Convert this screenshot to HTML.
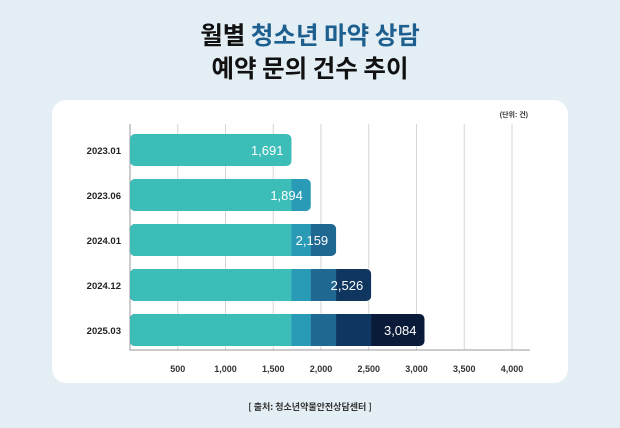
<!DOCTYPE html>
<html><head><meta charset="utf-8"><style>
body{margin:0;width:620px;height:428px;background:#e4eff5;font-family:"Liberation Sans","Noto Sans CJK KR",sans-serif;overflow:hidden;position:relative}
.t{position:absolute;left:0;width:620px;text-align:center;font-weight:bold;font-size:24.5px;color:#111;font-family:"Noto Sans CJK KR",sans-serif}
.card{position:absolute;left:52px;top:100px;width:516px;height:283px;background:#fff;border-radius:14px}
svg{position:absolute;left:0;top:0}
.src{position:absolute;top:400px;left:0;width:620px;text-align:center;font-size:9px;font-weight:bold;color:#333;font-family:"Noto Sans CJK KR",sans-serif}
</style></head><body>
<div class="t" style="top:17px">월별 <span style="color:#1d5f8f">청소년 마약 상담</span></div>
<div class="t" style="top:50px">예약 문의 건수 추이</div>
<div class="card"></div>
<svg id="c" width="620" height="428"></svg>
<div class="src">[ 출처: 청소년약물안전상담센터 ]</div>
<script>
const categories=["2023.01","2023.06","2024.01","2024.12","2025.03"];
const values=[1691,1894,2159,2526,3084];
const ticks=[500,1000,1500,2000,2500,3000,3500,4000];
const colors=["#3dbdb8","#2a9bb6","#1e6892","#0f365f","#0a1b3a"];
const NS="http://www.w3.org/2000/svg",svg=document.getElementById('c');
const x0=130,k=0.0955,y0=134,step=45,bh=32;
const X=v=>x0+v*k, Y=i=>y0+i*step;
function el(t,a,p){const e=document.createElementNS(NS,t);for(const n in a)e.setAttribute(n,a[n]);(p||svg).appendChild(e);return e;}
ticks.forEach(t=>{const g=el('line',{x1:X(t),x2:X(t),y1:124,y2:350,stroke:'#d6d6d6','stroke-width':1});


const l=el('text',{x:X(t),y:372,'text-anchor':'middle','font-size':'9','font-weight':'bold',fill:'#333'});l.textContent=t.toLocaleString('en-US');

});
const ax=el('path',{d:'M130 124V350H530',stroke:'#999',fill:'none','stroke-width':1});


const u=el('text',{x:528,y:117,'text-anchor':'end','font-size':'7','font-weight':'bold',fill:'#333'});u.textContent='(단위: 건)';


categories.forEach((c,i)=>{
 const y=Y(i);
 const cl=el('clipPath',{id:'cp'+i});el('rect',{x:x0,y:y,width:X(values[i])-x0,height:bh,rx:5},cl);
 const g=el('g',{'clip-path':'url(#cp'+i+')'});
 
 
 el('rect',{x:x0-10,y:y,width:X(values[i])-x0+10,height:bh,fill:colors[i]},g);
 for(let j=i-1;j>=0;j--){el('rect',{x:x0-10,y:y,width:X(values[j])-x0+10,height:bh,fill:colors[j]},g);}
 const v=el('text',{x:X(values[i])-8,y:y+bh/2+5,'text-anchor':'end','font-size':'13',fill:'#fff'});v.textContent=values[i].toLocaleString('en-US');
 
 
 const l=el('text',{x:121,y:y+bh/2+4,'text-anchor':'end','font-size':'9.5','font-weight':'bold',fill:'#222'});l.textContent=c;
 
 
});
</script>
</body></html>
